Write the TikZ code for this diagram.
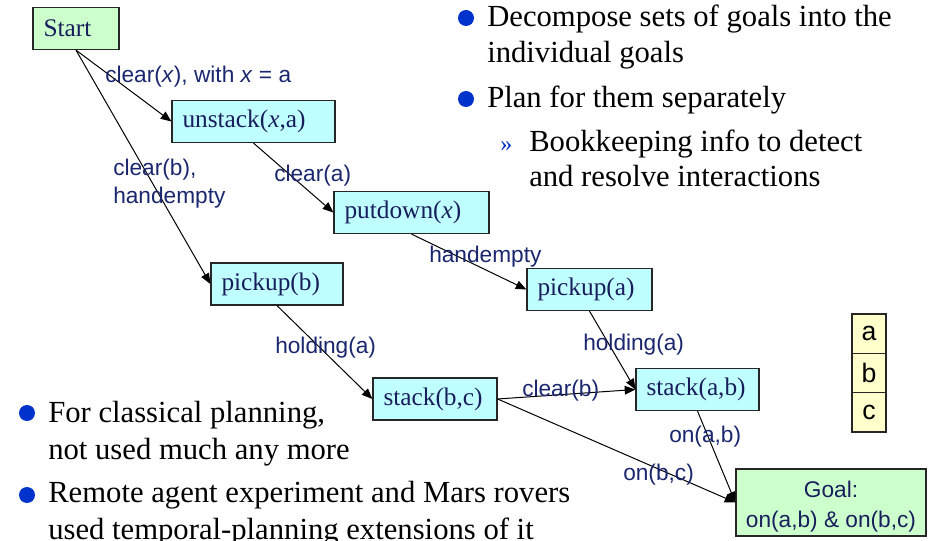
\documentclass[tikz,border=0pt]{standalone}
\usepackage{fontspec}
\setmainfont{Liberation Serif}
\newfontfamily\sansf{Liberation Sans}
\usetikzlibrary{arrows.meta}
\definecolor{navy}{RGB}{24,30,92}
\definecolor{labelblue}{RGB}{26,38,110}
\definecolor{cyanfill}{RGB}{192,255,255}
\definecolor{greenfill}{RGB}{204,255,204}
\definecolor{yellowfill}{RGB}{255,255,204}
\definecolor{bulletblue}{RGB}{0,51,204}
\begin{document}
\begin{tikzpicture}[x=0.75pt,y=-0.75pt,
  box/.style={draw=black!85, line width=0.9pt, fill=cyanfill, minimum height=31.5pt,
    inner xsep=7.875pt, inner ysep=0pt, text width=#1, align=left,
    font=\fontsize{19}{22}\selectfont, text=navy},
  goalbox/.style={draw=black!85, line width=0.9pt, fill=greenfill, minimum width=142.5pt,
    minimum height=50.25pt, inner sep=0pt, align=center,
    font=\sansf\fontsize{17}{22.5}\selectfont, text=navy},
  cell/.style={draw=black!85, line width=0.9pt, fill=yellowfill, minimum width=25.5pt,
    minimum height=29.5pt, inner sep=0pt, font=\sansf\fontsize{20}{22}\selectfont, text=black},
  lbl/.style={inner sep=0pt, anchor=base west, font=\sansf\fontsize{17}{21}\selectfont, text=labelblue, align=left},
  arr/.style={line width=0.75pt, draw=black, -{Triangle[length=8pt,width=6.5pt]}},
  dot/.style={circle, fill=bulletblue, minimum size=12pt, inner sep=0pt},
  btext/.style={inner sep=0pt, anchor=base west, font=\fontsize{23}{27}\selectfont, text=black},
  sub/.style={inner sep=0pt, anchor=base west, font=\fontsize{18}{20}\selectfont, text=bulletblue}]
\useasboundingbox (0,0) rectangle (933,541);

% plan nodes
\node[box=48.75pt, fill=greenfill] (start) at (76,28.5) {Start};
\node[box=106.5pt] (unstack) at (253.5,121.5) {unstack(\textit{x},a)};
\node[box=100.5pt] (putdown) at (411.5,212.5) {putdown(\textit{x})};
\node[box=83.25pt] (pickb) at (277,284) {pickup(b)};
\node[box=78pt] (picka) at (589.5,289.5) {pickup(a)};
\node[box=77.25pt] (stackbc) at (435,399) {stack(b,c)};
\node[box=76.5pt] (stackab) at (697.5,389.5) {stack(a,b)};
\node[goalbox] (goal) at (831,502.5) {\rule{0pt}{18pt}Goal:\\on(a,b) \& on(b,c)};

% connectors
\draw[arr] (start.south) -- (unstack.west);
\draw[arr] (start.south) -- (pickb.west);
\draw[arr] (unstack.south) -- (putdown.west);
\draw[arr] (putdown.south) -- (picka.west);
\draw[arr] (pickb.south) -- (stackbc.west);
\draw[arr] (picka.south) -- (stackab.west);
\draw[arr] (stackbc.east) -- (stackab.west);
\draw[arr] (stackbc.east) -- (goal.west);
\draw[arr] (stackab.south) -- (goal.west);

% connector labels
\node[lbl] (l1) at (105,83) {clear(\textit{x}), with \textit{x} = a};
\node[lbl] (l2) at (274,182) {clear(a)};
\node[lbl] (l3) at (113,204) {clear(b),\\handempty};
\node[lbl] (l4) at (429,263) {handempty};
\node[lbl] (l5) at (275,354) {holding(a)};
\node[lbl] (l6) at (583,351) {holding(a)};
\node[lbl] (l7) at (522,397) {clear(b)};
\node[lbl] (l8) at (669,443) {on(a,b)};
\node[lbl] (l9) at (623,481) {on(b,c)};

% block stack
\node[cell] (ca) at (869,333.7) {a};
\node[cell] (cb) at (869,373) {b};
\node[cell] (cc) at (869,412.3) {c};

% top-right bullets
\node[dot] (d1) at (466,18) {};
\node[btext] (t1) at (487,27) {Decompose sets of goals into the};
\node[btext] (t2) at (487,63) {individual goals};
\node[dot] (d2) at (466,99) {};
\node[btext] (t3) at (487,108) {Plan for them separately};
\node[sub] (s1) at (500,152) {»};
\node[btext] (t4) at (529,152) {Bookkeeping info to detect};
\node[btext] (t5) at (529,187) {and resolve interactions};

% bottom-left bullets
\node[dot] (d3) at (27,413) {};
\node[btext] (b1) at (48,423) {For classical planning,};
\node[btext] (b2) at (48,460) {not used much any more};
\node[dot] (d4) at (27,495) {};
\node[btext] (b3) at (48,503) {Remote agent experiment and Mars rovers};
\node[btext] (b4) at (48,540) {used temporal-planning extensions of it};
\end{tikzpicture}
\end{document}
